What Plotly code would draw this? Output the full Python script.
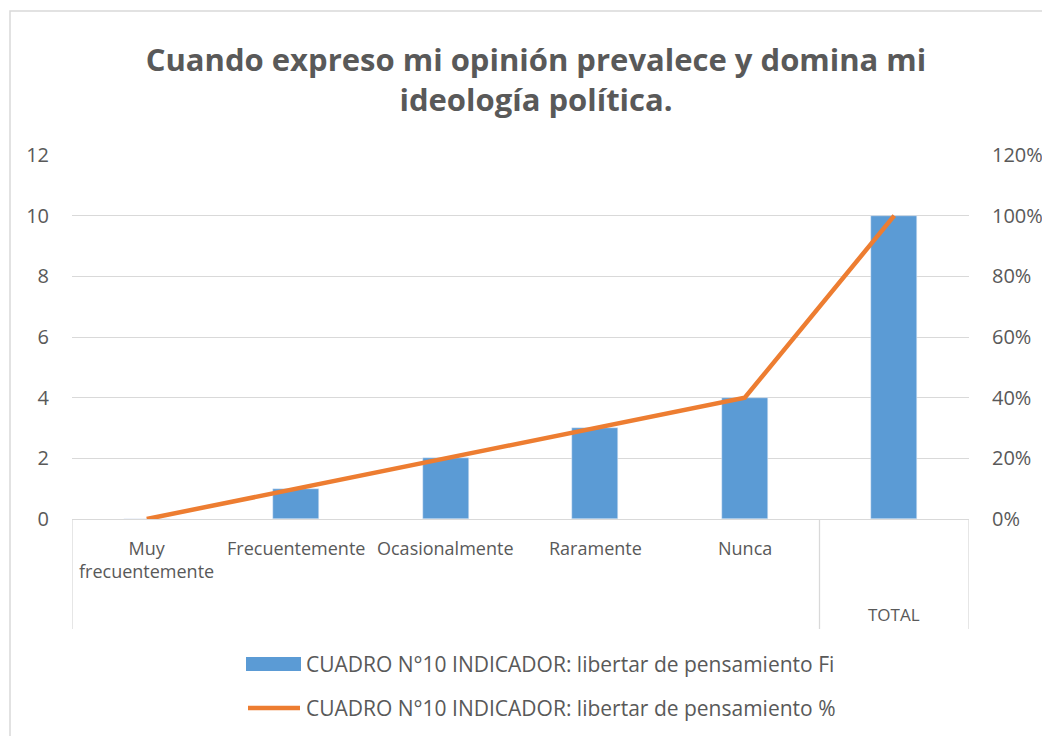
import plotly.graph_objects as go

categories = ["Muy<br>frecuentemente", "Frecuentemente", "Ocasionalmente", "Raramente", "Nunca", "TOTAL"]
fi_values = [0, 1, 2, 3, 4, 10]
pct_values = [0.0, 0.10, 0.20, 0.30, 0.40, 1.00]
series_fi = "CUADRO N°10 INDICADOR: libertar de pensamiento Fi"
series_pct = "CUADRO N°10 INDICADOR: libertar de pensamiento %"
title = "Cuando expreso mi opinión prevalece y domina mi<br>ideología política."

W, H = 1050, 736
OFF = 8  # page body margin
L, R, T, B = 72, 969, 155, 519
TXT = "#595959"
GRID = "#D9D9D9"
FONT = "Open Sans"

def px(xp):
    return (xp - L) / (R - L)

def py(yp):
    return (B - yp) / (B - T)

xs = list(range(len(categories)))

fig = go.Figure()
fig.add_trace(go.Bar(x=xs, y=fi_values, marker_color="#5B9BD5", width=0.31,
                     name=series_fi, showlegend=False))
fig.add_trace(go.Scatter(x=xs, y=pct_values, mode="lines", yaxis="y2",
                         line=dict(color="#ED7D31", width=4.5), name=series_pct,
                         showlegend=False))

shapes = []
# outer chart border
shapes.append(dict(type="rect", xref="paper", yref="paper", x0=px(10), x1=px(1048),
                   y0=py(760), y1=py(11), line=dict(color=GRID, width=1.5), layer="below"))
# category separators
for xv in [-0.5, 4.5, 5.5]:
    shapes.append(dict(type="line", xref="x", yref="paper", x0=xv, x1=xv,
                       y0=0, y1=py(629), line=dict(color=GRID, width=1.3)))
# custom legend
shapes.append(dict(type="rect", xref="paper", yref="paper", x0=px(246), x1=px(301),
                   y0=py(671), y1=py(657), fillcolor="#5B9BD5", line=dict(width=0)))
shapes.append(dict(type="line", xref="paper", yref="paper", x0=px(248), x1=px(300),
                   y0=py(708), y1=py(708), line=dict(color="#ED7D31", width=4.5)))

annotations = []
for i, c in enumerate(categories):
    if c == "TOTAL":
        annotations.append(dict(x=i, y=py(614), xref="x", yref="paper", text=c,
                                showarrow=False, font=dict(size=17, color=TXT, family=FONT),
                                xanchor="center", yanchor="middle"))
    else:
        annotations.append(dict(x=i, y=py(534), xref="x", yref="paper", text=c,
                                showarrow=False, font=dict(size=18, color=TXT, family=FONT),
                                xanchor="center", yanchor="top"))
annotations.append(dict(x=px(304), y=py(664), xref="paper", yref="paper", text=series_fi,
                        showarrow=False, xanchor="left", yanchor="middle",
                        font=dict(size=21, color=TXT, family=FONT)))
annotations.append(dict(x=px(304), y=py(708), xref="paper", yref="paper", text=series_pct,
                        showarrow=False, xanchor="left", yanchor="middle",
                        font=dict(size=21, color=TXT, family=FONT)))

fig.update_layout(
    width=W, height=H,
    margin=dict(l=L - OFF, r=W - R + OFF, t=T - OFF, b=H - B + OFF),
    paper_bgcolor="white", plot_bgcolor="white",
    title=dict(text=f"<b>{title}</b>", x=(536 - OFF) / W, xanchor="center", xref="container",
               y=1 - (71 - OFF) / H, yanchor="middle",
               font=dict(size=31, color=TXT, family=FONT)),
    xaxis=dict(range=[-0.5, 5.5], showticklabels=False, showgrid=False, zeroline=False,
               showline=True, linecolor=GRID, linewidth=1.3, fixedrange=True),
    yaxis=dict(range=[0, 12], dtick=2, showgrid=True, gridcolor=GRID, gridwidth=1.3,
               zeroline=False, tickfont=dict(size=20, color=TXT, family=FONT),
               ticklabelstandoff=22),
    yaxis2=dict(range=[0, 1.2], dtick=0.2, tickformat=".0%", overlaying="y", side="right",
                showgrid=False, zeroline=False, tickfont=dict(size=20, color=TXT, family=FONT),
                ticklabelstandoff=22),
    shapes=shapes, annotations=annotations,
    bargap=0,
)

fig.write_html("out.html")
